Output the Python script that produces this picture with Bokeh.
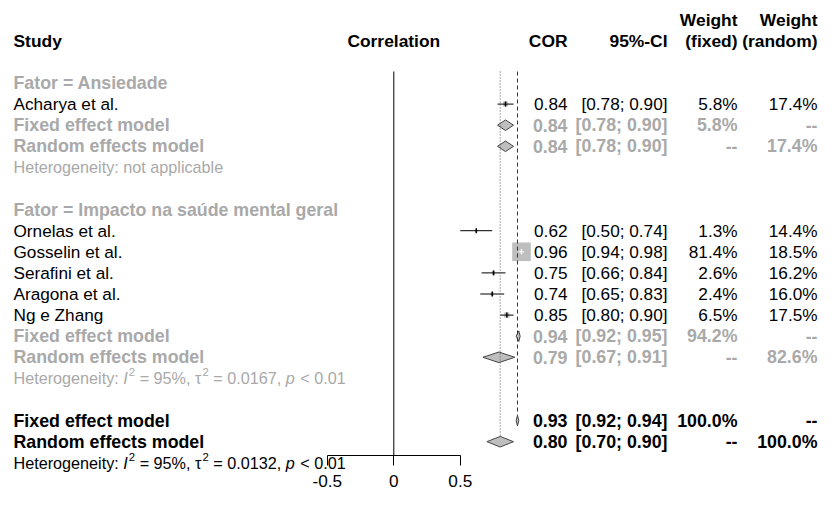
from bokeh.plotting import figure
from bokeh.models import Range1d, LinearAxis, FixedTicker
from bokeh.core.properties import value
from bokeh.embed import file_html
from bokeh.resources import INLINE
import math

# ---------------- data ----------------
subgroups = ["Ansiedade", "Impacto na saúde mental geral"]
studies = ["Acharya et al.", "Ornelas et al.", "Gosselin et al.",
           "Serafini et al.", "Aragona et al.", "Ng e Zhang"]
study_group = [0, 1, 1, 1, 1, 1]
cor = [0.84, 0.62, 0.96, 0.75, 0.74, 0.85]
ci_low = [0.78, 0.50, 0.94, 0.66, 0.65, 0.80]
ci_high = [0.90, 0.74, 0.98, 0.84, 0.83, 0.90]
w_fixed = [5.8, 1.3, 81.4, 2.6, 2.4, 6.5]
w_random = [17.4, 14.4, 18.5, 16.2, 16.0, 17.5]

sub_fixed = [0.84, 0.94]
sub_fixed_low = [0.78, 0.92]
sub_fixed_high = [0.90, 0.95]
sub_random = [0.84, 0.79]
sub_random_low = [0.78, 0.67]
sub_random_high = [0.90, 0.91]
sub_w_fixed = [5.8, 94.2]
sub_w_random = [17.4, 82.6]
sub_i2 = [None, 95]
sub_tau2 = [None, 0.0167]
sub_p = [None, "< 0.01"]

overall_fixed = [0.93, 0.92, 0.94]
overall_random = [0.80, 0.70, 0.90]
overall_i2 = 95
overall_tau2 = 0.0132
overall_p = "< 0.01"

axis_ticks = [-0.5, 0, 0.5]
axis_labels = ["-0.5", "0", "0.5"]

# ---------------- layout constants ----------------
FONT = "Liberation Sans"
FS = 17.2          # main font size (px)
FS_B = 17.8        # bold font size
FS_HDR = 17.4      # header font size
FS_HET = 16.2      # heterogeneity font size
GRAY = "#a9a9a9"
PX0 = 393.3        # x of correlation 0
SCALE = 133.0      # px per correlation unit
ROW0_Y = 82.5      # y of row 1
ROW_H = 21.1       # px per row
W, H = 818, 490


def xv(X):
    return (X - PX0) / SCALE


def rv(Y):
    return 1 + (Y - ROW0_Y) / ROW_H


COL_STUDY = xv(13)
COL_COR = xv(567)
COL_CI = xv(667)
COL_WF = xv(737)
COL_WR = xv(817)

p = figure(width=W, height=H, output_backend="svg", toolbar_location=None,
           x_range=Range1d(xv(0), xv(W)),
           y_range=Range1d(start=rv(H), end=rv(0)),
           x_axis_type=None, y_axis_type=None, min_border=0)
p.outline_line_color = None
p.xgrid.visible = False
p.ygrid.visible = False
p.background_fill_color = "white"


def txt(x, y, s, color="black", bold=False, align="left", size=None, italic=False, yoff=0):
    style = "bold" if bold else ("italic" if italic else "normal")
    if size is None:
        size = FS_B if bold else FS
    p.text(x=[x], y=[y], text=[s], text_font=value(FONT), text_font_size=f"{size}px",
           text_font_style=style, text_color=color, text_align=align,
           text_baseline="middle", y_offset=yoff)


def fmt_ci(lo, hi):
    return f"[{lo:.2f}; {hi:.2f}]"


# Arial/Liberation advance widths (per 1000 em)
CW = {'H': 722, 'e': 556, 't': 278, 'r': 333, 'o': 556, 'g': 556, 'n': 556, 'i': 222,
      'y': 500, ':': 278, ' ': 278, '=': 584, '%': 889, ',': 278, '.': 278, '<': 584,
      'a': 556, 'p': 556, 'l': 222, 'c': 500, 'b': 556, 'I': 278, 'τ': 460}


def tw(s, size):
    return sum(CW.get(ch, 556) for ch in s) / 1000.0 * size


def het_line(row, color, i2, tau2, pval):
    X = 13
    sup = FS_HET * 0.7
    sp = tw(" ", FS_HET)
    pieces = [("Heterogeneity:", "n", 1), ("I", "i", 0), ("2", "s", 1),
              (f"= {i2}%,", "n", 1), ("τ", "n", 0), ("2", "s", 1),
              (f"= {tau2:.4f},", "n", 1), ("p", "i", 1), (pval, "n", 0)]
    for s, kind, gap in pieces:
        size = sup if kind == "s" else FS_HET
        txt(xv(X), row, s, color=color, size=size, italic=(kind == "i"),
            yoff=(-6 if kind == "s" else 0))
        X += tw(s, size) + gap * sp + (1.0 if kind == "i" else 0.0)


# header
txt(COL_STUDY, -1, "Study", bold=True, size=FS_HDR)
txt(0, -1, "Correlation", bold=True, align="center", size=FS_HDR)
txt(COL_COR, -1, "COR", bold=True, align="right", size=FS_HDR)
txt(COL_CI, -1, "95%-CI", bold=True, align="right", size=FS_HDR)
txt(COL_WF, -2, "Weight", bold=True, align="right", size=FS_HDR)
txt(COL_WF, -1, "(fixed)", bold=True, align="right", size=FS_HDR)
txt(COL_WR, -2, "Weight", bold=True, align="right", size=FS_HDR)
txt(COL_WR, -1, "(random)", bold=True, align="right", size=FS_HDR)

DH = 5.3 / ROW_H     # diamond half height in rows
MAXSQ = 18.6         # largest square side (px)
wmax = max(w_fixed)


def diamond(est, lo, hi, row):
    p.patch(x=[lo, est, hi, est], y=[row, row - DH, row, row + DH],
            fill_color="#bebebe", line_color="#444444", line_width=1)


def summary_rows(row, label_color, fx, fx_lo, fx_hi, wf, rd, rd_lo, rd_hi, wr):
    txt(COL_STUDY, row, "Fixed effect model", color=label_color, bold=True)
    txt(COL_COR, row, f"{fx:.2f}", color=label_color, bold=True, align="right")
    txt(COL_CI, row, fmt_ci(fx_lo, fx_hi), color=label_color, bold=True, align="right")
    txt(COL_WF, row, f"{wf:.1f}%", color=label_color, bold=True, align="right")
    txt(COL_WR, row, "--", color=label_color, bold=True, align="right")
    diamond(fx, fx_lo, fx_hi, row)
    r2 = row + 1
    txt(COL_STUDY, r2, "Random effects model", color=label_color, bold=True)
    txt(COL_COR, r2, f"{rd:.2f}", color=label_color, bold=True, align="right")
    txt(COL_CI, r2, fmt_ci(rd_lo, rd_hi), color=label_color, bold=True, align="right")
    txt(COL_WF, r2, "--", color=label_color, bold=True, align="right")
    txt(COL_WR, r2, f"{wr:.1f}%", color=label_color, bold=True, align="right")
    diamond(rd, rd_lo, rd_hi, r2)


row = 1
for g, name in enumerate(subgroups):
    txt(COL_STUDY, row, f"Fator = {name}", color=GRAY, bold=True)
    row += 1
    for i, s in enumerate(studies):
        if study_group[i] != g:
            continue
        side = MAXSQ * math.sqrt(w_fixed[i] / wmax)
        inside = (ci_high[i] - ci_low[i]) * SCALE < side
        p.rect(x=[cor[i]], y=[row], width=side, height=side, width_units="screen",
               height_units="screen", fill_color="#bebebe", line_color=None)
        lc = "white" if inside else "black"
        p.segment(x0=[ci_low[i]], y0=[row], x1=[ci_high[i]], y1=[row], line_color=lc, line_width=1)
        p.rect(x=[cor[i]], y=[row], width=1.5, height=5, width_units="screen",
               height_units="screen", fill_color=lc, line_color=None)
        txt(COL_STUDY, row, s)
        txt(COL_COR, row, f"{cor[i]:.2f}", align="right")
        txt(COL_CI, row, fmt_ci(ci_low[i], ci_high[i]), align="right")
        txt(COL_WF, row, f"{w_fixed[i]:.1f}%", align="right")
        txt(COL_WR, row, f"{w_random[i]:.1f}%", align="right")
        row += 1
    summary_rows(row, GRAY, sub_fixed[g], sub_fixed_low[g], sub_fixed_high[g], sub_w_fixed[g],
                 sub_random[g], sub_random_low[g], sub_random_high[g], sub_w_random[g])
    row += 2
    if sub_i2[g] is None:
        txt(COL_STUDY, row, "Heterogeneity: not applicable", color=GRAY, size=FS_HET)
    else:
        het_line(row, GRAY, sub_i2[g], sub_tau2[g], sub_p[g])
    row += 2

fixed_row = row
summary_rows(row, "black", overall_fixed[0], overall_fixed[1], overall_fixed[2], 100.0,
             overall_random[0], overall_random[1], overall_random[2], 100.0)
het_line(row + 2, "black", overall_i2, overall_tau2, overall_p)

# reference lines
LINE_TOP = rv(71)
AXIS_ROW = rv(455)
p.segment(x0=[0], y0=[LINE_TOP], x1=[0], y1=[AXIS_ROW], line_color="black", line_width=1)
p.segment(x0=[overall_fixed[0]], y0=[LINE_TOP], x1=[overall_fixed[0]], y1=[fixed_row - DH],
          line_color="#333333", line_width=1, line_dash="4 3")
p.segment(x0=[overall_random[0]], y0=[LINE_TOP], x1=[overall_random[0]], y1=[fixed_row + 1 - DH],
          line_color="#555555", line_width=1, line_dash="1 2")

# axis
ax = LinearAxis(fixed_location=AXIS_ROW, bounds=(min(axis_ticks), max(axis_ticks)),
                ticker=FixedTicker(ticks=axis_ticks, minor_ticks=[]))
ax.major_label_overrides = {t: lab for t, lab in zip(axis_ticks, axis_labels)}
ax.major_tick_out = 10
ax.major_tick_in = 0
ax.minor_tick_out = 0
ax.minor_tick_in = 0
ax.axis_line_color = "black"
ax.major_tick_line_color = "black"
ax.major_label_text_font = FONT
ax.major_label_text_font_size = f"{FS}px"
ax.major_label_text_color = "black"
ax.major_label_standoff = 9
p.add_layout(ax, "below")

open("out.html", "w").write(file_html(p, INLINE))
